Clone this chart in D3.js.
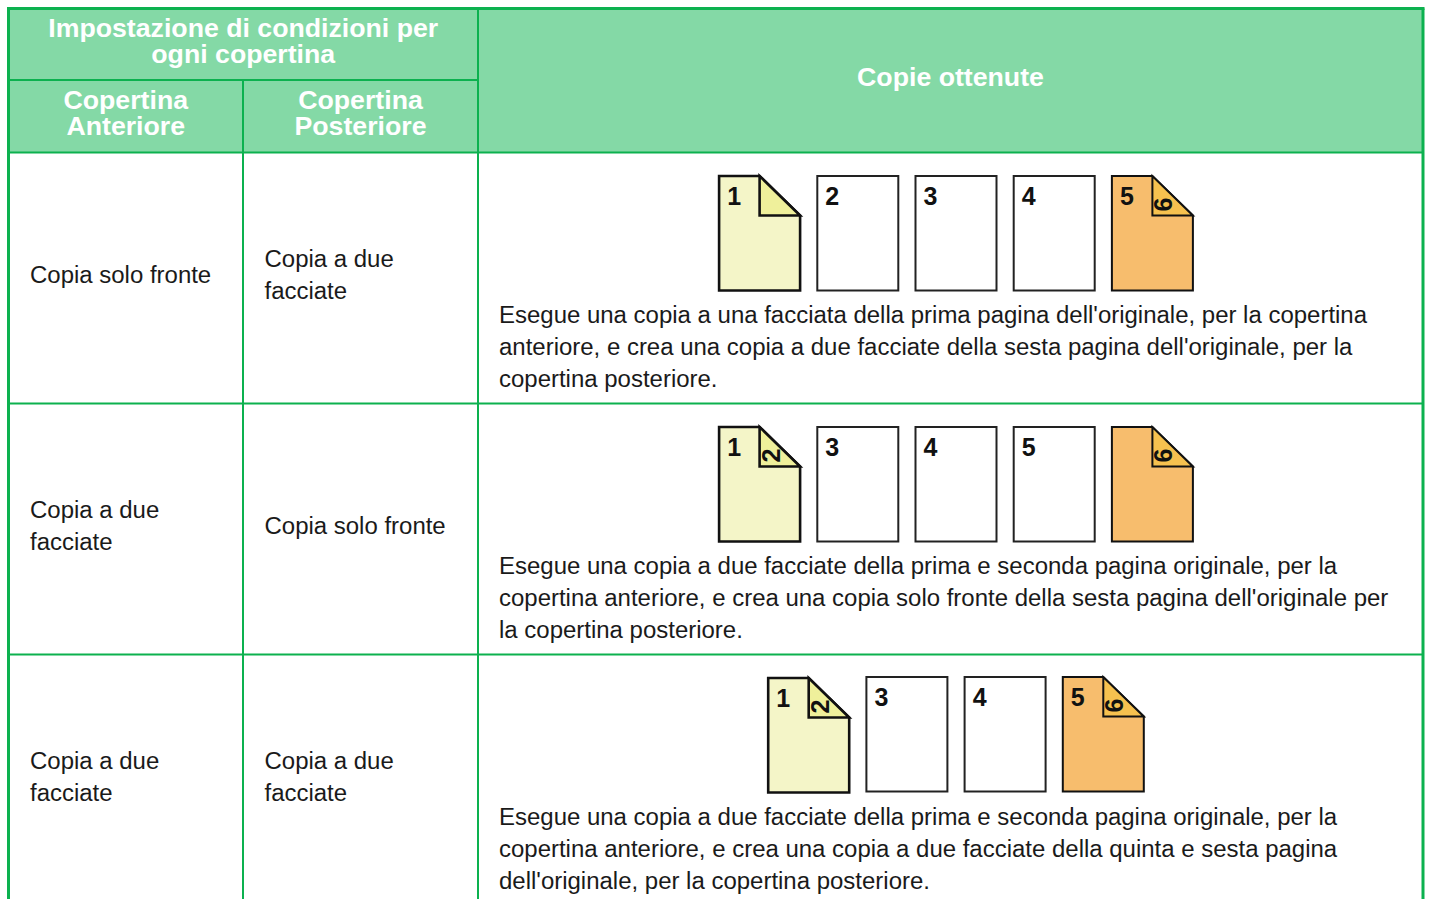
<!DOCTYPE html>
<html>
<head>
<meta charset="utf-8">
<script src="https://cdn.jsdelivr.net/npm/d3@7"></script>
<style>
html, body { margin: 0; padding: 0; background: #fff; overflow: hidden; }
svg { display: block; font-family: "Liberation Sans", Arial, sans-serif; }
</style>
</head>
<body>
<div id="chart"></div>
<script>
// header labels
const headTop = ["Impostazione di condizioni per", "ogni copertina"];
const headFront = ["Copertina", "Anteriore"];
const headBack = ["Copertina", "Posteriore"];
const headResult = ["Copie ottenute"];

// table body
const frontCover = [["Copia solo fronte"], ["Copia a due", "facciate"], ["Copia a due", "facciate"]];
const backCover = [["Copia a due", "facciate"], ["Copia solo fronte"], ["Copia a due", "facciate"]];
const descriptions = [
    ["Esegue una copia a una facciata della prima pagina dell'originale, per la copertina",
     "anteriore, e crea una copia a due facciate della sesta pagina dell'originale, per la",
     "copertina posteriore."],
    ["Esegue una copia a due facciate della prima e seconda pagina originale, per la",
     "copertina anteriore, e crea una copia solo fronte della sesta pagina dell'originale per",
     "la copertina posteriore."],
    ["Esegue una copia a due facciate della prima e seconda pagina originale, per la",
     "copertina anteriore, e crea una copia a due facciate della quinta e sesta pagina",
     "dell'originale, per la copertina posteriore."]
];

// copies per row: front number, number on the fold, kind of sheet
const pageFronts = [["1", "2", "3", "4", "5"], ["1", "3", "4", "5", ""], ["1", "3", "4", "5"]];
const pageFolds = [["", null, null, null, "6"], ["2", null, null, null, "6"], ["2", null, null, "6"]];
const pageKinds = [["first", "plain", "plain", "plain", "last"], ["first", "plain", "plain", "plain", "last"], ["first", "plain", "plain", "last"]];

const sheetColor = {first: "#f4f5c8", plain: "#ffffff", last: "#f7bd6d"};
const foldColor = {first: "#eff09b", last: "#f6c14f"};

const width = 1429, height = 899;
const green = "#0cb14f", headFill = "#84d9a6", ink = "#1a1a1a";

const svg = d3.select("#chart").append("svg")
    .attr("width", width)
    .attr("height", height);

// columns and rows of the table
const colX = [8.5, 243, 478, 1423];
const rowY = d3.scaleLinear().domain([0, 1]).range([152.5, 403.5]);
const topY = 8.5, midY = 80;

svg.append("rect")
    .attr("x", colX[0]).attr("y", topY)
    .attr("width", colX[3] - colX[0]).attr("height", rowY(0) - topY)
    .attr("fill", headFill);

function hLine(x1, x2, y, w) {
    svg.append("line").attr("x1", x1).attr("x2", x2).attr("y1", y).attr("y2", y)
        .attr("stroke", green).attr("stroke-width", w);
}
function vLine(x, y1, y2, w) {
    svg.append("line").attr("x1", x).attr("x2", x).attr("y1", y1).attr("y2", y2)
        .attr("stroke", green).attr("stroke-width", w);
}

hLine(colX[0] - 1.5, colX[3] + 1.5, topY, 3);
hLine(colX[0], colX[2], midY, 2);
[0, 1, 2].forEach(i => hLine(colX[0], colX[3], rowY(i), 2));
vLine(colX[0], topY, height, 3);
vLine(colX[1], midY, height, 2);
vLine(colX[2], topY, height, 2);
vLine(colX[3], topY, height, 3);

// multi-line text block, y is the first baseline
function textBlock(lines, x, y, step, size, opts) {
    opts = opts || {};
    svg.append("g").selectAll("text")
        .data(lines)
        .enter().append("text")
        .attr("x", x)
        .attr("y", (d, i) => y + i * step)
        .attr("text-anchor", opts.anchor || "start")
        .attr("font-size", size)
        .attr("font-weight", opts.weight || "normal")
        .attr("fill", opts.fill || ink)
        .text(d => d);
}

const headOpts = {anchor: "middle", weight: "bold", fill: "#fff"};
const headSize = 26.7;
textBlock(headTop, (colX[0] + colX[2]) / 2, 37, 26, headSize, headOpts);
textBlock(headFront, (colX[0] + colX[1]) / 2, 109, 26, headSize, headOpts);
textBlock(headBack, (colX[1] + colX[2]) / 2, 109, 26, headSize, headOpts);
textBlock(headResult, (colX[2] + colX[3]) / 2, 86, 26, headSize, headOpts);

const bodySize = 23.98, lineStep = 32;

// sheet drawing
const pageW = 81, pageH = 114.5, foldW = 40.5, foldH = 39.5, pageStep = 98.2;

function drawPage(g, kind, front, fold) {
    const dogEar = kind !== "plain";
    const sw = kind === "first" ? 2.6 : 2;
    if (dogEar) {
        g.append("path")
            .attr("d", d3.line()([[0, 0], [foldW, 0], [pageW, foldH], [pageW, pageH], [0, pageH]]) + "Z")
            .attr("fill", sheetColor[kind])
            .attr("stroke", "#111").attr("stroke-width", sw).attr("stroke-linejoin", "miter");
        g.append("path")
            .attr("d", d3.line()([[foldW, 0], [foldW, foldH], [pageW, foldH]]) + "Z")
            .attr("fill", foldColor[kind])
            .attr("stroke", "#111").attr("stroke-width", sw).attr("stroke-linejoin", "miter");
    } else {
        g.append("rect")
            .attr("width", pageW).attr("height", pageH)
            .attr("fill", sheetColor[kind])
            .attr("stroke", "#222").attr("stroke-width", 2);
    }
    if (front) {
        g.append("text")
            .attr("x", 15).attr("y", 28.5)
            .attr("text-anchor", "middle")
            .attr("font-size", 25).attr("font-weight", "bold")
            .attr("fill", "#111")
            .text(front);
    }
    if (fold) {
        g.append("text")
            .attr("transform", `translate(${foldW + 20}, ${foldH - 11}) rotate(-90)`)
            .attr("text-anchor", "middle")
            .attr("font-size", 25).attr("font-weight", "bold")
            .attr("fill", "#111")
            .text(fold);
    }
}

// one table row
descriptions.forEach((desc, r) => {
    const top = rowY(r), mid = top + 122;

    const blockY = lines => mid - (lines.length - 1) * lineStep / 2 + 8;
    textBlock(frontCover[r], 30, blockY(frontCover[r]), lineStep, bodySize);
    textBlock(backCover[r], 264.5, blockY(backCover[r]), lineStep, bodySize);
    textBlock(desc, 499, top + 170, lineStep, bodySize);

    const n = pageKinds[r].length;
    const center = 956;
    const pageX = d3.scaleLinear()
        .domain([0, n - 1])
        .range([center - (n - 1) * pageStep / 2 - pageW / 2, center + (n - 1) * pageStep / 2 - pageW / 2]);

    pageKinds[r].forEach((kind, i) => {
        // last row sits one pixel higher, except its first sheet
        const nudge = (r === 2 && i > 0) ? -1 : 0;
        const g = svg.append("g")
            .attr("transform", `translate(${pageX(i)}, ${top + 23.5 + nudge})`);
        drawPage(g, kind, pageFronts[r][i], pageFolds[r][i]);
    });
});
</script>
</body>
</html>
